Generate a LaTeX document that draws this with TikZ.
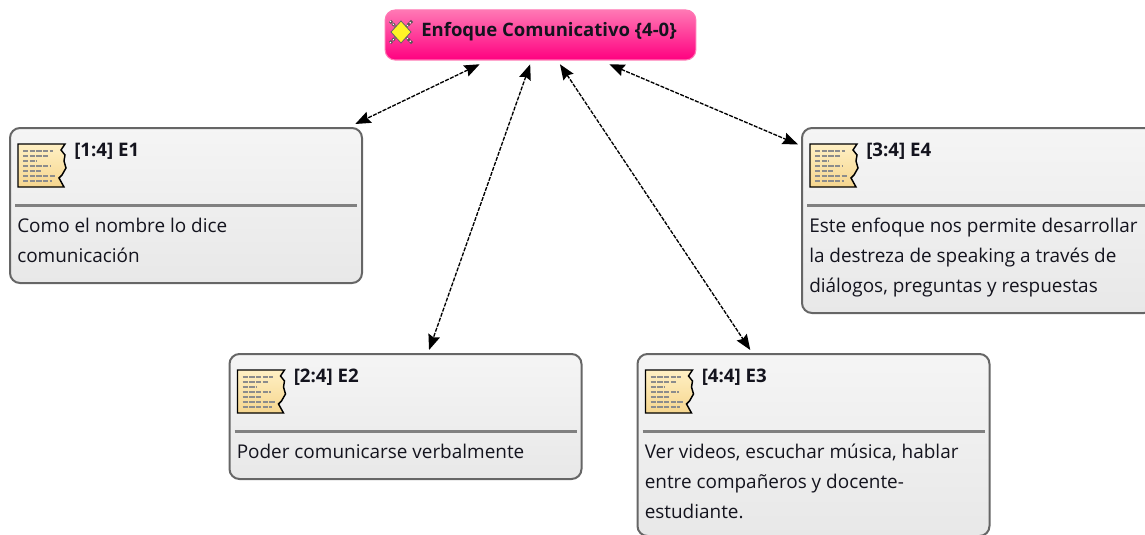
\documentclass[tikz,border=0pt]{standalone}
\usepackage{fontspec}
\setmainfont{Open Sans}
\usetikzlibrary{arrows.meta,calc}
\definecolor{rahmen}{HTML}{666666}
\definecolor{trenner}{HTML}{808080}
\definecolor{schrift}{HTML}{14141E}
\definecolor{pinkoben}{HTML}{FF78B4}
\definecolor{pinkmitte}{HTML}{FF2E90}
\definecolor{pinkunten}{HTML}{FF0080}
\definecolor{papieroben}{HTML}{FFF0C4}
\definecolor{papierunten}{HTML}{F6D68E}
\tikzset{
  quotebox/.style={draw=rahmen,line width=1.5pt,rounded corners=7.5pt,top color=white!96!black,bottom color=white!91!black,outer sep=3pt,inner sep=0pt},
  rootbox/.style={draw=pinkoben,line width=.8pt,rounded corners=7.5pt,top color=pinkoben,middle color=pinkmitte,bottom color=pinkunten,outer sep=3.2pt,inner sep=0pt},
  titeltext/.style={anchor=west,inner sep=0pt,text=schrift,font=\fontsize{14}{15}\selectfont\bfseries},
  bodytext/.style={anchor=north west,inner sep=0pt,align=left,text=schrift,font=\fontsize{14.2}{22.5}\selectfont},
  kante/.style={<->,>={Stealth[length=11.5pt,width=9pt,inset=1.5pt]},line width=1pt,dash pattern=on 3pt off 1pt},
  docicon/.pic={
    \draw[black,line width=1.1pt,top color=papieroben,bottom color=papierunten] (0,0) -- (47,0) -- (43,6) -- (47,11) -- (46,17) -- (48,24) -- (44,31) -- (41,34) -- (46,43) -- (0,43) -- cycle;
    %kleine Textzeilen
    \foreach \zeile/\laenge in {7/30,12/26,17/14,22/28,27/18,32/33,37/29}{
      \draw[black!45,line width=.8pt,dash pattern=on 4pt off 1pt] (5,\zeile) -- ++(\laenge,0);
    }
  },
  codeicon/.pic={
    \draw[black!65,line width=2.2pt,dash pattern=on 2pt off .7pt] (-11,-11) -- (11,11) (-11,11) -- (11,-11);
    \draw[white,line width=.7pt,dash pattern=on 1pt off 2pt] (-11,-11) -- (11,11) (-11,11) -- (11,-11);
    \draw[black!60,fill=yellow!85!white,line width=.6pt] (-10,0) -- (0,-11) -- (10,0) -- (0,11) -- cycle;
  }
}
\begin{document}
\begin{tikzpicture}[x=.75pt,y=-.75pt]
\clip (0,0) rectangle (1145,535);
\node[rootbox,minimum width=233pt,minimum height=37.5pt] (root) at (540.5,35) {};
\pic at (401,32) {codeicon};
\node[anchor=west,inner sep=0pt,text=schrift,font=\fontsize{13.9}{15}\selectfont\bfseries] (roottitel) at (421,32) {Enfoque Comunicativo \{4-0\}};
%Boxen: Name/Mitte x/Mitte y/Hoehe/Titel/Text
\foreach \name/\xx/\yy/\hh/\titel/\inhalt in {
  e1/186/205.5/155/{[1:4] E1}/{Como el nombre lo dice\\comunicación},
  e2/405.5/416.5/125/{[2:4] E2}/{Poder comunicarse verbalmente},
  e3/813.5/445/182/{[4:4] E3}/{Ver videos, escuchar música, hablar\\entre compañeros y docente-\\estudiante.},
  e4/978/220.5/185/{[3:4] E4}/{Este enfoque nos permite desarrollar\\la destreza de speaking a través de\\diálogos, preguntas y respuestas}}{
  \node[quotebox,minimum width=264pt,minimum height=\hh*.75pt] (\name) at (\xx,\yy) {};
  \pic at ($(\xx-176,\yy-\hh/2)+(8,16)$) {docicon};
  \draw[trenner,line width=2.4pt] ($(\xx-176,\yy-\hh/2)+(5,77.5)$) -- ($(\xx+176,\yy-\hh/2)+(-5,77.5)$);
  \node[titeltext] (\name-titel) at ($(\xx-176,\yy-\hh/2)+(64,23)$) {\titel};
  \node[bodytext] (\name-text) at ($(\xx-176,\yy-\hh/2)+(7,90)$) {\inhalt};
}
\draw[kante] (root) -- (e1);
\draw[kante] (root) -- (e2);
\draw[kante] (root) -- (e3);
\draw[kante] (root) -- (e4);
\end{tikzpicture}
\end{document}
